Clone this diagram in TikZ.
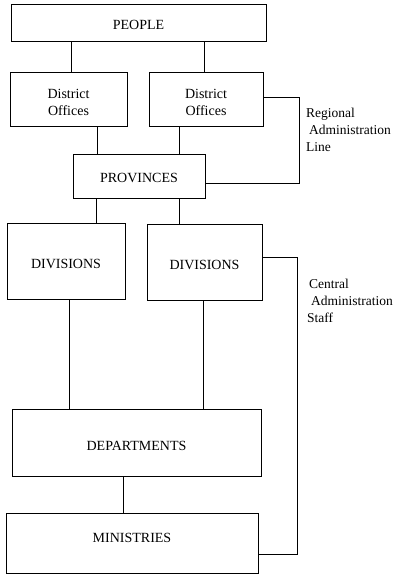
\documentclass[tikz,border=0pt]{standalone}
\usepackage{fontspec}
\setmainfont{Liberation Serif}
\begin{document}
\begin{tikzpicture}[x=1pt,y=-1pt,
  box/.style={draw,line width=0.9pt,inner sep=0pt,font=\fontsize{14}{17}\selectfont,align=center},
  conn/.style={line width=0.9pt},
  lab/.style={inner sep=0pt,anchor=west,align=left,font=\fontsize{13.5}{17}\selectfont}]
\useasboundingbox (0,0) rectangle (393,575);
\node[box,minimum width=255,minimum height=37,text height=14.3pt,text depth=0pt] (people) at (138.5,22.5) {PEOPLE};
\node[box,minimum width=117,minimum height=54,text height=33.6pt,text depth=0pt] (do1) at (68.5,99) {District\\Offices};
\node[box,minimum width=114,minimum height=54,text height=33.6pt,text depth=0pt] (do2) at (206,99) {District\\Offices};
\node[box,minimum width=132,minimum height=44,text height=12.3pt,text depth=0pt] (prov) at (139,176) {PROVINCES};
\node[box,minimum width=118,minimum height=76,text height=15.3pt,text depth=0pt] (div1) at (66,261) {DIVISIONS};
\node[box,minimum width=115,minimum height=76,text height=15.3pt,text depth=0pt] (div2) at (204.5,262) {DIVISIONS};
\node[box,minimum width=249,minimum height=67,text height=16.3pt,text depth=0pt] (dept) at (136.5,442.5) {DEPARTMENTS};
\node[box,minimum width=252,minimum height=60,text height=9.3pt,text depth=10pt] (min) at (132,543) {MINISTRIES};
\coordinate (a1) at (71,0);
\coordinate (a2) at (204,0);
\coordinate (b1) at (97,0);
\coordinate (b2) at (179,0);
\coordinate (c1) at (96,0);
\coordinate (c2) at (179,0);
\coordinate (d1) at (69,0);
\coordinate (d2) at (203,0);
\coordinate (e1) at (123,0);
\draw[conn] (a1 |- people.south) -- (a1 |- do1.north);
\draw[conn] (a2 |- people.south) -- (a2 |- do2.north);
\draw[conn] (b1 |- do1.south) -- (b1 |- prov.north);
\draw[conn] (b2 |- do2.south) -- (b2 |- prov.north);
\draw[conn] (c1 |- prov.south) -- (c1 |- div1.north);
\draw[conn] (c2 |- prov.south) -- (c2 |- div2.north);
\draw[conn] (d1 |- div1.south) -- (d1 |- dept.north);
\draw[conn] (d2 |- div2.south) -- (d2 |- dept.north);
\draw[conn] (e1 |- dept.south) -- (e1 |- min.north);
\coordinate (ra) at (299,97);
\coordinate (rb) at (299,183);
\draw[conn] (do2.east |- ra) -- (ra) -- (rb) -- (prov.east |- rb);
\coordinate (ca) at (297,257);
\coordinate (cb) at (297,554);
\draw[conn] (div2.east |- ca) -- (ca) -- (cb) -- (min.east |- cb);
\node[lab] (reg) at (306,130) {Regional\\\hspace{3pt}Administration\\Line};
\node[lab] (cen) at (307,301) {\hspace{2pt}Central\\\hspace{4pt}Administration\\Staff};
\end{tikzpicture}
\end{document}
